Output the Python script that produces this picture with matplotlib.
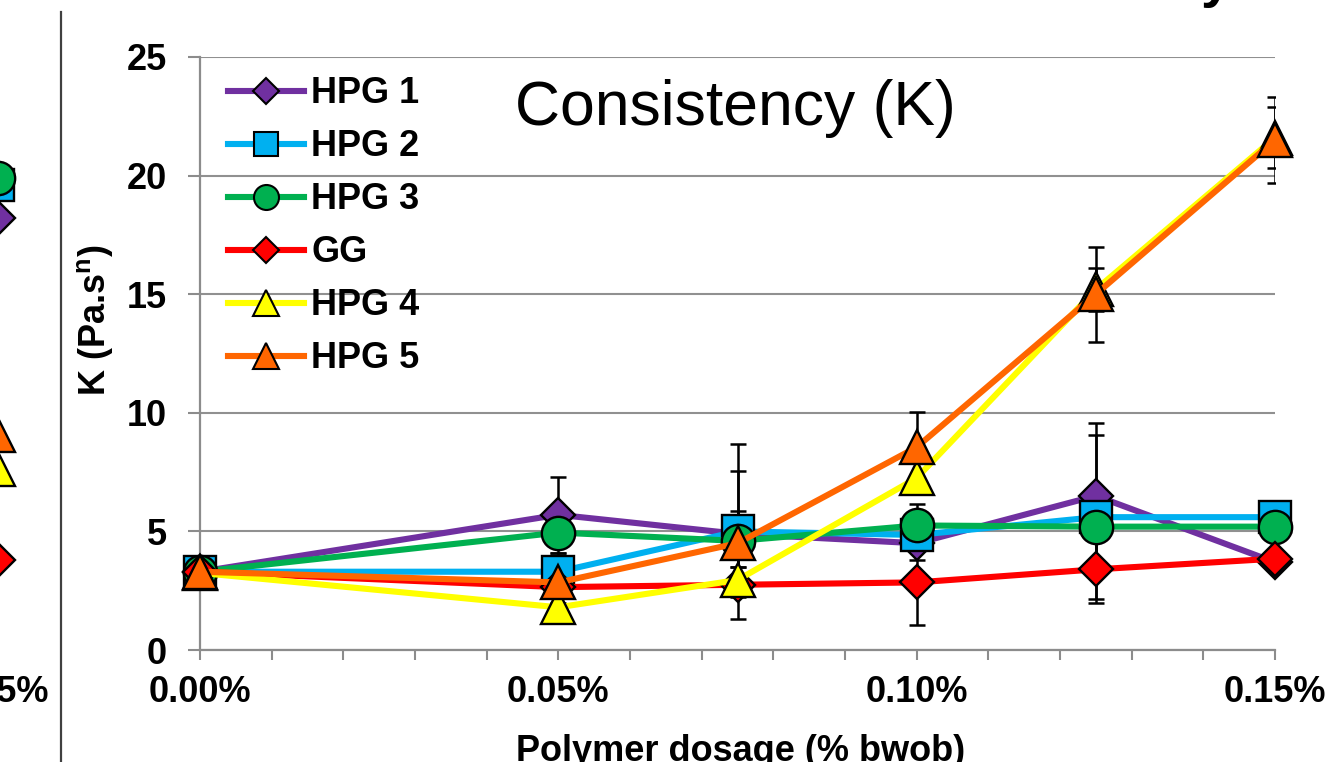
import matplotlib.pyplot as plt
from matplotlib.lines import Line2D
from matplotlib.ticker import MultipleLocator, FuncFormatter

plt.rcParams['font.family'] = ['Liberation Sans', 'DejaVu Sans']

# polymer dosage (% bwob)
dosage = [0.0, 0.05, 0.075, 0.10, 0.125, 0.15]
labels = ['HPG 1', 'HPG 2', 'HPG 3', 'GG', 'HPG 4', 'HPG 5']

# consistency K (Pa.s^n)
hpg1 = [3.3, 5.7, 4.9, 4.5, 6.5, 3.7]
hpg2 = [3.3, 3.3, 5.0, 4.85, 5.6, 5.6]
hpg3 = [3.3, 4.95, 4.6, 5.25, 5.2, 5.2]
gg = [3.3, 2.65, 2.75, 2.85, 3.4, 3.85]
hpg4 = [3.25, 1.8, 2.95, 7.25, 15.2, 21.6]
hpg5 = [3.3, 2.85, 4.5, 8.55, 15.0, 21.5]

# error bars (+/-)
err1 = [0.2, 1.6, 2.66, 0.7, 3.05, 0.3]
err2 = [0.2, 0.8, 3.7, 0.3, 3.45, 0.3]
err3 = [0.2, 0.3, 1.1, 0.9, 0.5, 0.3]
err_gg = [0.2, 0.2, 0.3, 1.8, 1.4, 0.3]
err4 = [0.2, 0.2, 0.55, 0.65, 0.9, 1.3]
err5 = [0.2, 0.3, 1.36, 1.5, 2.0, 1.8]

# neighbouring chart on the slide, only its last points are visible
left_last = [18.2, 19.6, 19.9, 3.8, 7.65, 9.05]

series = [hpg1, hpg2, hpg3, gg, hpg4, hpg5]
errors = [err1, err2, err3, err_gg, err4, err5]
colors = ['#7030A0', '#00B0F0', '#00B050', '#FF0000', '#FFFF00', '#FF6600']
markers = ['D', 's', 'o', 'D', '^', '^']
msizes = [17, 23, 24, 17, 25, 25]

W, H = 1326, 762
fig = plt.figure(figsize=(W / 100, H / 100), dpi=100)
bottom = 1 - 650 / H
height = (650 - 57) / H
ax = fig.add_axes([200 / W, bottom, 1075 / W, height])

for y, e in zip(series, errors):
    ax.errorbar(dosage, y, yerr=e, fmt='none', ecolor='black', elinewidth=1.8,
                capsize=5.5, capthick=1.8, zorder=2)

for y, lab, c, m, ms in zip(series, labels, colors, markers, msizes):
    ax.plot(dosage, y, color=c, lw=4.4, marker=m, ms=ms, mfc=c, mec='black',
            mew=1.7, label=lab, zorder=3, clip_on=False)

ax.set_xlim(0, 0.15)
ax.set_ylim(0, 25)
ax.xaxis.set_major_locator(MultipleLocator(0.01))
ax.xaxis.set_major_formatter(FuncFormatter(
    lambda v, p: f'{v:.2f}%' if round(v * 100) % 5 == 0 else ''))
ax.yaxis.set_major_locator(MultipleLocator(5))
ax.tick_params(axis='x', direction='out', length=7, width=1.5, color='#8c8c8c',
               pad=11, labelsize=26)
ax.tick_params(axis='y', direction='out', length=9, width=1.5, color='#8c8c8c',
               pad=15, labelsize=26)
for t in ax.get_xticklabels() + ax.get_yticklabels():
    t.set_fontweight('bold')
for s in ['top', 'right']:
    ax.spines[s].set_visible(False)
for s in ['left', 'bottom']:
    ax.spines[s].set_color('#8c8c8c')
    ax.spines[s].set_linewidth(1.6)
ax.grid(axis='y', color='#909090', lw=1.5)
ax.set_axisbelow(True)

handles = [Line2D([], [], color=c, lw=4.4, marker=m, ms=ms * 0.75, mfc=c,
                  mec='black', mew=1.5)
           for c, m, ms in zip(colors, markers, msizes)]
ax.legend(handles, labels, loc='upper left', bbox_to_anchor=(0.013, 0.992),
          frameon=False, borderaxespad=0, handlelength=2.1, handletextpad=0.2,
          labelspacing=0.5, prop={'weight': 'bold', 'size': 26})

fig.text(735 / W, 1 - 125 / H, 'Consistency (K)', fontsize=45,
         ha='center', va='baseline')
fig.text(95 / W, 1 - 320 / H, 'K (Pa.s$^{\\mathregular{n}}$)', rotation=90,
         fontsize=26, fontweight='bold', ha='center', va='center')
fig.text(741 / W, 1 - 734 / H, 'Polymer dosage (% bwob)', fontsize=26,
         fontweight='bold', ha='center', va='top')

# edge of the neighbouring chart
ax_l = fig.add_axes([(-2 - 1075) / W, bottom, 1075 / W, height])
ax_l.set_facecolor('none')
for s in ax_l.spines.values():
    s.set_visible(False)
ax_l.set_xlim(0, 0.15)
ax_l.set_ylim(0, 25)
ax_l.set_yticks([])
ax_l.set_xticks([0.15])
ax_l.set_xticklabels(['0.15%'], fontsize=26, fontweight='bold')
ax_l.tick_params(axis='x', length=7, pad=11)
for v, c, m, ms in zip(left_last, colors, markers, msizes):
    ax_l.plot([0.15], [v], marker=m, ms=ms, mfc=c, mec='black', mew=1.7,
              ls='none', clip_on=False)

fig.add_artist(Line2D([61 / W, 61 / W], [0, 1 - 12 / H], color='#404040', lw=1.6))
fig.text(1216 / W, 1 + 4 / H, 'y', fontsize=40, fontweight='bold',
         ha='center', va='baseline')

fig.savefig('out.png', dpi=100)
